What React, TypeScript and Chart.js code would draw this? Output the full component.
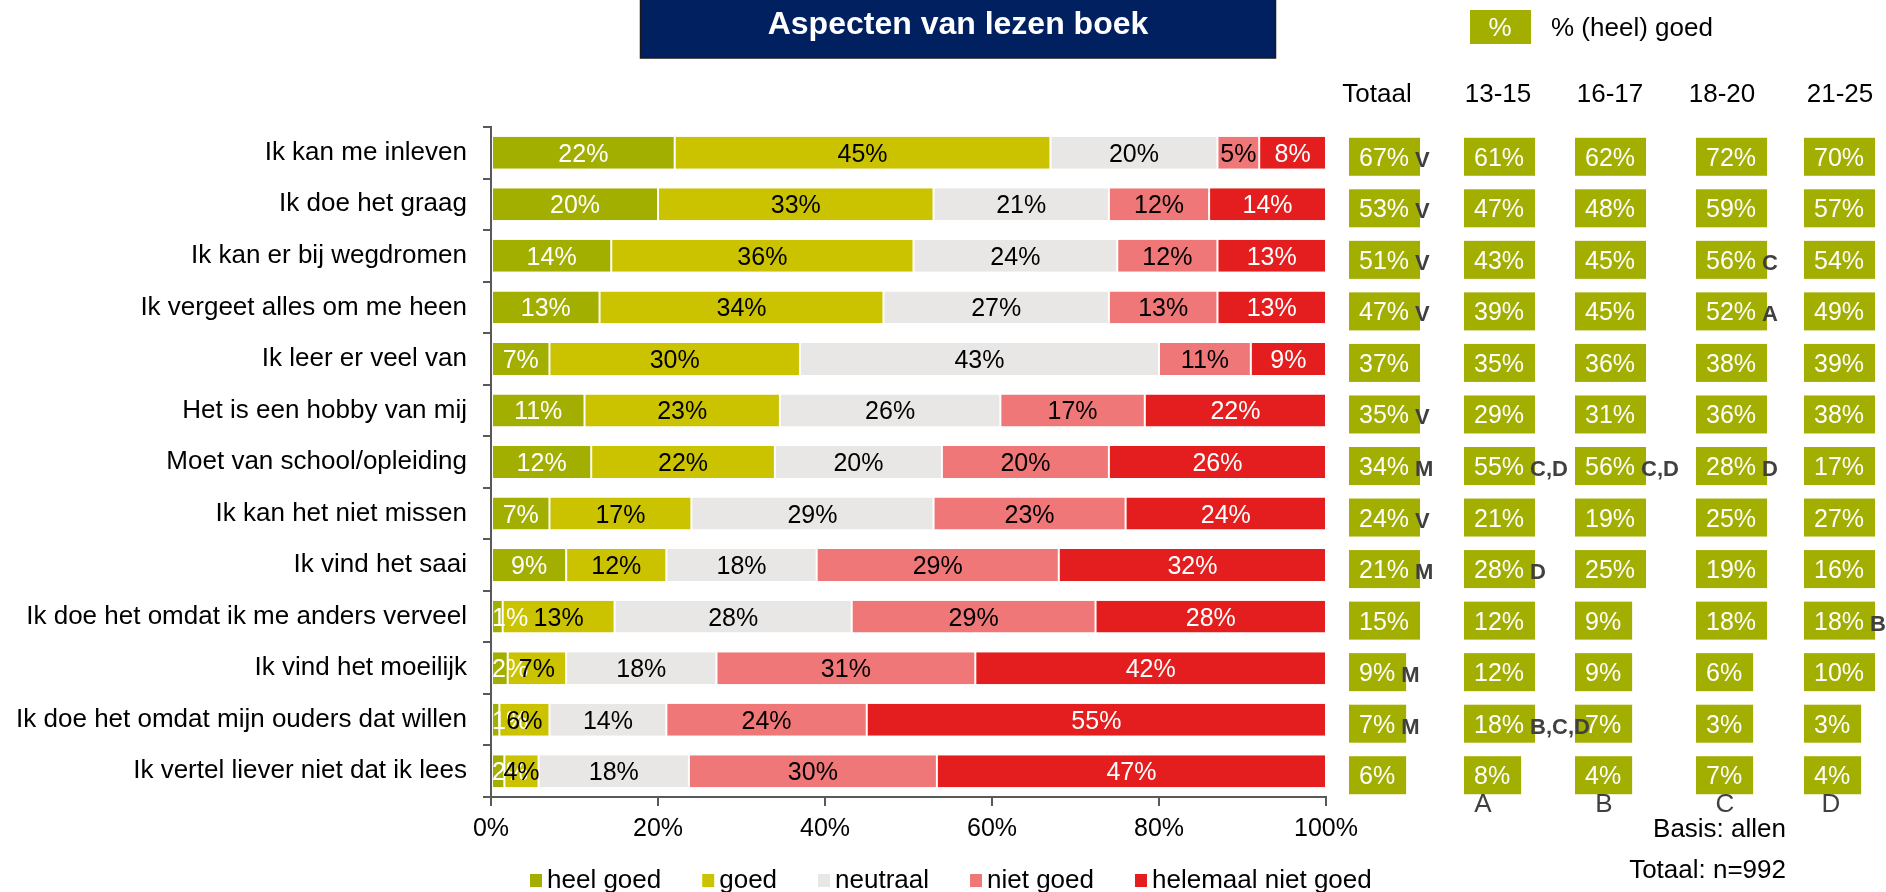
import React, { useEffect, useRef } from "react";
import { Chart, registerables } from "chart.js";

Chart.register(...registerables);

const FONT = "'Liberation Sans', Arial, sans-serif";

const categories = [
  "Ik kan me inleven",
  "Ik doe het graag",
  "Ik kan er bij wegdromen",
  "Ik vergeet alles om me heen",
  "Ik leer er veel van",
  "Het is een hobby van mij",
  "Moet van school/opleiding",
  "Ik kan het niet missen",
  "Ik vind het saai",
  "Ik doe het omdat ik me anders verveel",
  "Ik vind het moeilijk",
  "Ik doe het omdat mijn ouders dat willen",
  "Ik vertel liever niet dat ik lees",
];

const seriesNames = ["heel goed", "goed", "neutraal", "niet goed", "helemaal niet goed"];
const heelGoed = [22, 20, 14.4, 13, 7, 11.2, 12, 7, 9, 1.4, 2, 1, 1.6];
const goed = [45, 33, 36.2, 34, 30, 23.4, 22, 17, 12, 13.4, 7, 6, 4.1];
const neutraal = [20, 21, 24.4, 27, 43, 26.4, 20, 29, 18, 28.4, 18, 14, 18];
const nietGoed = [5, 12, 12, 13, 11, 17.3, 20, 23, 29, 29.2, 31, 24, 29.7];
const helemaalNietGoed = [8, 14, 13, 13, 9, 21.7, 26, 24, 32, 27.6, 42, 55, 46.6];

const xTickValues = [0, 20, 40, 60, 80, 100];

const tableHeaders = ["Totaal", "13-15", "16-17", "18-20", "21-25"];
const columnLetters = ["", "A", "B", "C", "D"];
const totaal = [67, 53, 51, 47, 37, 35, 34, 24, 21, 15, 9, 7, 6];
const totaalSig = ["V", "V", "V", "V", "", "V", "M", "V", "M", "", "M", "M", ""];
const age1315 = [61, 47, 43, 39, 35, 29, 55, 21, 28, 12, 12, 18, 8];
const age1315Sig = ["", "", "", "", "", "", "C,D", "", "D", "", "", "B,C,D", ""];
const age1617 = [62, 48, 45, 45, 36, 31, 56, 19, 25, 9, 9, 7, 4];
const age1617Sig = ["", "", "", "", "", "", "C,D", "", "", "", "", "", ""];
const age1820 = [72, 59, 56, 52, 38, 36, 28, 25, 19, 18, 6, 3, 7];
const age1820Sig = ["", "", "C", "A", "", "", "D", "", "", "", "", "", ""];
const age2125 = [70, 57, 54, 49, 39, 38, 17, 27, 16, 18, 10, 3, 4];
const age2125Sig = ["", "", "", "", "", "", "", "", "", "B", "", "", ""];

const titleText = "Aspecten van lezen boek";
const boxLegendText = "% (heel) goed";
const footnotes = ["Basis: allen", "Totaal: n=992"];

const colors = ["#A3AF00", "#CCC300", "#E8E7E5", "#F07777", "#E41E1E"];
const labelColors = ["#FFFFFF", "#000000", "#000000", "#000000", "#FFFFFF"];
const BOX_GREEN = "#A2AE00";
const NAVY = "#002060";

export default function App() {
  const ref = useRef<HTMLCanvasElement | null>(null);

  useEffect(() => {
    if (!ref.current) return;
    const tableValues = [totaal, age1315, age1617, age1820, age2125];
    const tableSigs = [totaalSig, age1315Sig, age1617Sig, age1820Sig, age2125Sig];
    const colLeft = [1349, 1464, 1575, 1696, 1804];
    const headerCenter = [1377, 1498, 1610, 1722, 1840];
    const letterCenter = [0, 1483, 1604, 1725, 1831];

    const overlay = {
      id: "overlay",
      afterDatasetsDraw(chart: any) {
        const ctx = chart.ctx as CanvasRenderingContext2D;
        const left = chart.chartArea.left;
        ctx.save();
        ctx.font = `25px ${FONT}`;
        ctx.textAlign = "center";
        ctx.textBaseline = "alphabetic";
        chart.data.datasets.forEach((ds: any, di: number) => {
          const meta = chart.getDatasetMeta(di);
          meta.data.forEach((bar: any, i: number) => {
            const v = ds.data[i];
            const txt = Math.round(v) + "%";
            const tw = ctx.measureText(txt).width;
            let cx = (bar.x + bar.base) / 2;
            if (cx - tw / 2 < left + 1) cx = left + 1 + tw / 2;
            ctx.fillStyle = labelColors[di];
            ctx.fillText(txt, cx, bar.y + 9);
          });
        });
        ctx.restore();
      },
      afterDraw(chart: any) {
        const ctx = chart.ctx as CanvasRenderingContext2D;
        const yScale = chart.scales.y;
        ctx.save();
        ctx.textBaseline = "alphabetic";

        // title box
        ctx.fillStyle = NAVY;
        ctx.fillRect(640, 0, 636, 58);
        ctx.strokeStyle = "#1a1a1a";
        ctx.lineWidth = 1.5;
        ctx.strokeRect(640.5, -1, 635, 59);
        ctx.fillStyle = "#FFFFFF";
        ctx.font = `bold 32px ${FONT}`;
        ctx.textAlign = "center";
        ctx.fillText(titleText, 958, 34);

        // box legend
        ctx.fillStyle = BOX_GREEN;
        ctx.fillRect(1470, 10, 61, 34);
        ctx.font = `26px ${FONT}`;
        ctx.fillStyle = "#FFFFFF";
        ctx.fillText("%", 1500, 36);
        ctx.textAlign = "left";
        ctx.fillStyle = "#000000";
        ctx.fillText(boxLegendText, 1551, 36);

        // headers
        ctx.textAlign = "center";
        ctx.font = `26px ${FONT}`;
        tableHeaders.forEach((h, c) => {
          ctx.fillStyle = "#000000";
          ctx.fillText(h, headerCenter[c], 102);
        });

        // table cells (boxes first, then significance letters on top)
        const sigDraws: Array<[string, number, number]> = [];
        tableValues.forEach((vals, c) => {
          vals.forEach((v, i) => {
            const cy = yScale.getPixelForValue(i) + 4;
            const txt = v + "%";
            ctx.font = `25px ${FONT}`;
            const tw = ctx.measureText(txt).width;
            const bw = tw + 21;
            const bx = colLeft[c];
            ctx.fillStyle = BOX_GREEN;
            ctx.fillRect(bx, cy - 19, bw, 38);
            ctx.fillStyle = "#FFFFFF";
            ctx.textAlign = "left";
            ctx.fillText(txt, bx + 10, cy + 9);
            const sig = tableSigs[c][i];
            if (sig) sigDraws.push([sig, bx + bw - 5, cy + 10]);
          });
        });
        ctx.font = `bold 22px ${FONT}`;
        ctx.fillStyle = "#404040";
        ctx.textAlign = "left";
        sigDraws.forEach(([s, x, y]) => ctx.fillText(s, x, y));

        // column letters
        ctx.font = `26px ${FONT}`;
        ctx.textAlign = "center";
        ctx.fillStyle = "#404040";
        columnLetters.forEach((l, c) => {
          if (l) ctx.fillText(l, letterCenter[c], 812);
        });

        // footnotes
        ctx.textAlign = "right";
        ctx.fillStyle = "#000000";
        ctx.fillText(footnotes[0], 1786, 837);
        ctx.fillText(footnotes[1], 1786, 878);

        // legend
        ctx.textAlign = "left";
        ctx.font = `26px ${FONT}`;
        let lx = 530;
        chart.data.datasets.forEach((ds: any, di: number) => {
          ctx.fillStyle = colors[di];
          ctx.fillRect(lx, 874, 12, 13);
          ctx.fillStyle = "#000000";
          const tx = lx + 17;
          ctx.fillText(ds.label, tx, 888);
          lx = tx + ctx.measureText(ds.label).width + 41;
        });

        ctx.restore();
      },
    };

    const seriesData = [heelGoed, goed, neutraal, nietGoed, helemaalNietGoed];
    const chart = new Chart(ref.current, {
      type: "bar",
      data: {
        labels: categories,
        datasets: seriesData.map((d, i) => ({
          label: seriesNames[i],
          data: d,
          backgroundColor: colors[i],
          borderColor: "#FFFFFF",
          borderWidth: { left: 1, right: 1, top: 0, bottom: 0 },
          borderSkipped: false,
          barPercentage: 0.62,
          categoryPercentage: 1,
        })),
      },
      options: {
        indexAxis: "y",
        responsive: false,
        animation: false,
        layout: { padding: { top: 127, right: 560, bottom: 0, left: 0 } },
        plugins: {
          legend: { display: false },
          tooltip: { enabled: false },
          title: { display: false },
        },
        scales: {
          x: {
            stacked: true,
            min: 0,
            max: 100,
            afterBuildTicks: (s: any) => {
              s.ticks = xTickValues.map((v) => ({ value: v }));
            },
            ticks: {
              callback: (v: any) => v + "%",
              font: { size: 25, family: FONT },
              color: "#000000",
              padding: 8,
              maxRotation: 0,
            },
            grid: { drawOnChartArea: false, drawTicks: true, tickLength: 9, color: "#595959", lineWidth: 2 },
            border: { color: "#595959", width: 2 },
            afterFit: (s: any) => {
              s.height = 95;
            },
          },
          y: {
            stacked: true,
            ticks: { font: { size: 26, family: FONT }, color: "#000000", padding: 16, autoSkip: false },
            grid: { drawOnChartArea: false, drawTicks: true, tickLength: 8, color: "#595959", lineWidth: 2 },
            border: { color: "#595959", width: 2 },
            afterFit: (s: any) => {
              s.width = 491;
            },
          },
        },
      } as any,
      plugins: [overlay],
    });
    return () => chart.destroy();
  }, []);

  return (
    <div style={{ position: "absolute", left: 0, top: 0, width: 1886, height: 892, background: "#FFFFFF" }}>
      <canvas ref={ref} width={1886} height={892} style={{ display: "block", width: 1886, height: 892 }} />
    </div>
  );
}
